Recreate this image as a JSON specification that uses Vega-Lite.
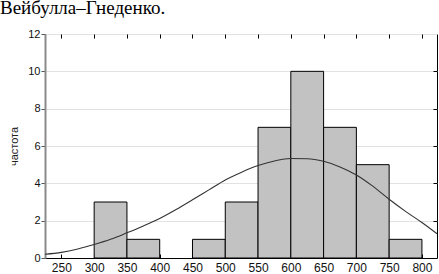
{
  "$schema": "https://vega.github.io/schema/vega-lite/v6.json",
  "width": 392,
  "height": 224,
  "autosize": {"type": "none"},
  "padding": {"left": 45, "top": 34, "right": 2, "bottom": 16},
  "title": {
    "text": "Вейбулла–Гнеденко.",
    "anchor": "start",
    "frame": "group",
    "dx": -45,
    "offset": 10,
    "font": "Liberation Serif",
    "fontSize": 19,
    "fontWeight": "normal",
    "color": "#000"
  },
  "config": {
    "view": {"stroke": "#000", "strokeWidth": 1},
    "axis": {
      "labelFont": "Liberation Sans",
      "titleFont": "Liberation Sans",
      "labelFontSize": 11,
      "labelColor": "#111"
    }
  },
  "datasets": {
    "bins": [
      {"start": 300, "end": 350, "count": 3, "base": 0},
      {"start": 350, "end": 400, "count": 1, "base": 0},
      {"start": 450, "end": 500, "count": 1, "base": 0},
      {"start": 500, "end": 550, "count": 3, "base": 0},
      {"start": 550, "end": 600, "count": 7, "base": 0},
      {"start": 600, "end": 650, "count": 10, "base": 0},
      {"start": 650, "end": 700, "count": 7, "base": 0},
      {"start": 700, "end": 750, "count": 5, "base": 0},
      {"start": 750, "end": 800, "count": 1, "base": 0}
    ],
    "curve": [
      {"x": 225, "f": 0.2},
      {"x": 250, "f": 0.3},
      {"x": 275, "f": 0.48},
      {"x": 300, "f": 0.72},
      {"x": 325, "f": 1.0},
      {"x": 350, "f": 1.35},
      {"x": 375, "f": 1.72},
      {"x": 400, "f": 2.12},
      {"x": 425, "f": 2.6},
      {"x": 450, "f": 3.12},
      {"x": 475, "f": 3.65},
      {"x": 500, "f": 4.18},
      {"x": 525, "f": 4.6},
      {"x": 550, "f": 4.95},
      {"x": 575, "f": 5.2},
      {"x": 600, "f": 5.33},
      {"x": 625, "f": 5.32},
      {"x": 650, "f": 5.18},
      {"x": 675, "f": 4.88},
      {"x": 700, "f": 4.45},
      {"x": 725, "f": 3.85},
      {"x": 750, "f": 3.15},
      {"x": 775, "f": 2.5},
      {"x": 800, "f": 1.9},
      {"x": 823, "f": 1.3}
    ]
  },
  "resolve": {"axis": {"x": "independent", "y": "independent"}},
  "layer": [
    {
      "data": {"name": "bins"},
      "mark": {"type": "rect", "fill": "#c2c2c2", "stroke": "#000", "strokeWidth": 1},
      "encoding": {
        "x": {
          "field": "start",
          "type": "quantitative",
          "scale": {"domain": [225, 823], "nice": false, "zero": false},
          "axis": {
            "title": null,
            "values": [250, 300, 350, 400, 450, 500, 550, 600, 650, 700, 750, 800],
            "grid": false,
            "domainColor": "#000",
            "tickColor": "#000",
            "tickSize": -4,
            "labelPadding": 8,
            "labelFontSize": 12
          }
        },
        "x2": {"field": "end"},
        "y": {
          "field": "count",
          "type": "quantitative",
          "scale": {"domain": [0, 12], "nice": false},
          "axis": {
            "title": "частота",
            "titleFontWeight": "normal",
            "titleFontSize": 11,
            "titleColor": "#222",
            "titlePadding": 8,
            "values": [0, 2, 4, 6, 8, 10, 12],
            "grid": true,
            "gridColor": "#e2e2e2",
            "domainColor": "#8a8a8a",
            "domainWidth": 2,
            "tickColor": "#555",
            "tickSize": 4,
            "labelPadding": 1
          }
        },
        "y2": {"field": "base"}
      }
    },
    {
      "data": {"name": "curve"},
      "mark": {"type": "line", "color": "#333", "strokeWidth": 1.1, "interpolate": "monotone", "clip": true},
      "encoding": {
        "x": {
          "field": "x",
          "type": "quantitative",
          "axis": {
            "orient": "top",
            "title": null,
            "labels": false,
            "domain": false,
            "grid": false,
            "values": [250, 300, 350, 400, 450, 500, 550, 600, 650, 700, 750, 800],
            "tickColor": "#000",
            "tickSize": -4
          }
        },
        "y": {
          "field": "f",
          "type": "quantitative",
          "axis": {
            "orient": "right",
            "title": null,
            "labels": false,
            "domain": false,
            "grid": false,
            "values": [2, 4, 6, 8, 10],
            "tickColor": "#000",
            "tickSize": -4
          }
        }
      }
    }
  ]
}
